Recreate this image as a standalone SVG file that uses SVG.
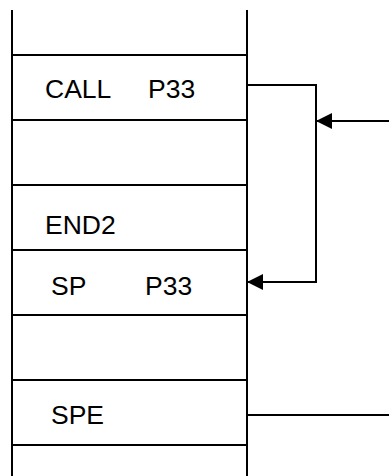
<svg xmlns="http://www.w3.org/2000/svg" width="389" height="476" viewBox="0 0 389 476">
<style>
.ln{stroke:#000;stroke-width:2;fill:none}
.t{font-family:"Liberation Sans",Arial,sans-serif;font-size:26.5px;fill:#000}
</style>
<defs>
<marker id="ah" viewBox="0 0 16 16" refX="16" refY="8" markerWidth="16" markerHeight="16" markerUnits="userSpaceOnUse" orient="auto">
<path d="M0,0 L16,8 L0,16 Z" fill="#000"/>
</marker>
</defs>
<rect width="389" height="476" fill="#fff"/>
<g id="stack">
<line class="ln" x1="12" y1="10" x2="12" y2="476"/>
<line class="ln" x1="247" y1="10" x2="247" y2="476"/>
<line class="ln" x1="12" y1="55" x2="247" y2="55"/>
<line class="ln" x1="12" y1="120" x2="247" y2="120"/>
<line class="ln" x1="12" y1="185" x2="247" y2="185"/>
<line class="ln" x1="12" y1="250" x2="247" y2="250"/>
<line class="ln" x1="12" y1="315" x2="247" y2="315"/>
<line class="ln" x1="12" y1="380" x2="247" y2="380"/>
<line class="ln" x1="12" y1="445" x2="247" y2="445"/>
</g>
<g id="call"><text class="t" x="45" y="98">CALL<tspan x="148">P33</tspan></text></g>
<g id="end2"><text class="t" x="45" y="234">END2</text></g>
<g id="sp"><text class="t" x="51" y="295">SP<tspan x="145">P33</tspan></text></g>
<g id="spe"><text class="t" x="51" y="424">SPE</text></g>
<g id="connectors">
<polyline class="ln" points="247,85 316,85 316,282 247,282" marker-end="url(#ah)"/>
<line class="ln" x1="389" y1="121" x2="316" y2="121" marker-end="url(#ah)"/>
<line class="ln" x1="247" y1="415" x2="389" y2="415"/>
</g>
</svg>
